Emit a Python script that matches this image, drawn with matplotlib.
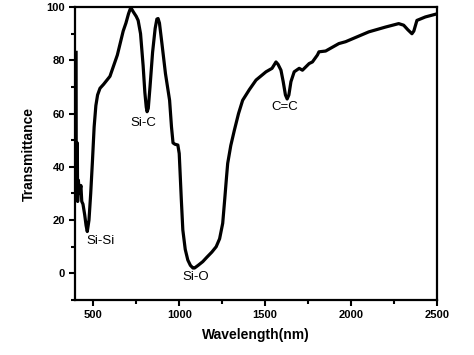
import numpy as np
import matplotlib
matplotlib.use('Agg')
import matplotlib.pyplot as plt
from matplotlib.ticker import MultipleLocator

plt.rcParams['font.family'] = ['Liberation Sans', 'DejaVu Sans']

# FTIR spectrum
wavelength = [400, 401, 404, 407, 409, 413, 420, 428, 433, 440, 450, 458, 465,
              475, 485, 495, 505, 515, 525, 539, 560, 597, 640, 674, 690,
              705, 715, 722, 735, 750, 761, 775, 790, 800, 808, 813, 820,
              830, 845, 860, 870, 877, 885, 900, 920, 944, 955, 964, 975,
              992, 1000, 1005, 1012, 1021, 1035, 1050, 1065, 1080, 1089,
              1110, 1137, 1160, 1190, 1215, 1235, 1253, 1265, 1275, 1282,
              1300, 1321, 1345, 1369, 1408, 1447, 1505, 1540, 1563, 1575,
              1592, 1605, 1618, 1628, 1638, 1650, 1669, 1698, 1717, 1756,
              1775, 1804, 1813, 1852, 1929, 1968, 2103, 2200, 2277, 2306,
              2330, 2354, 2365, 2383, 2432, 2490, 2500]
transmittance = [83, 30, 40, 49, 27, 35, 30, 33, 27, 26, 22, 18, 15.7,
                 20, 30, 42, 55, 63, 67, 69.5, 71, 74, 82, 91, 94,
                 97.5, 99.3, 99.4, 98, 96.5, 95, 90, 78, 68, 62.5, 60.7, 62,
                 70, 83, 92, 95.5, 95.7, 94, 86, 75, 65, 55, 49, 48.5,
                 48.2, 45, 38, 28, 16.3, 9, 5, 3, 2, 2,
                 3, 4.4, 6, 8, 10, 13, 18.8, 28, 36, 41.3,
                 48, 53.8, 60, 65, 69, 72.6, 75.7, 77, 79.4, 78.5,
                 76.3, 72, 67, 65.5, 67, 72, 75.7, 77, 76.3, 78.8,
                 79.4, 82, 83.2, 83.5, 86.3, 87, 90.7, 92.5, 93.8, 93.2,
                 91.5, 90, 91, 95, 96.3, 97.3, 97.5]

labels = ['Si-Si', 'Si-C', 'Si-O', 'C=C']
label_x = [543, 790, 1099, 1614]
label_y = [12, 56.3, -1.4, 62.3]

fig = plt.figure(figsize=(4.74, 3.55), dpi=100)
ax = fig.add_axes([0.158, 0.155, 0.764, 0.825])

ax.plot(wavelength, transmittance, color='black', lw=2.3,
        solid_joinstyle='round')
for lab, lx, ly in zip(labels, label_x, label_y):
    ax.text(lx, ly, lab, ha='center', va='center', fontsize=9.5)

ax.set_xlim(393, 2500)
ax.set_ylim(-10, 100)
ax.xaxis.set_major_locator(MultipleLocator(500))
ax.xaxis.set_minor_locator(MultipleLocator(250))
ax.yaxis.set_major_locator(MultipleLocator(20))
ax.yaxis.set_minor_locator(MultipleLocator(10))
ax.tick_params(which='major', direction='out', length=4, width=1.5,
               labelsize=8, pad=3)
ax.tick_params(which='minor', direction='out', length=3, width=1.5)
for lbl in ax.get_xticklabels() + ax.get_yticklabels():
    lbl.set_fontweight('bold')
for sp in ax.spines.values():
    sp.set_linewidth(1.6)

ax.set_xlabel('Wavelength(nm)', fontsize=10, fontweight='bold', labelpad=6)
ax.set_ylabel('Transmittance', fontsize=10, fontweight='bold', labelpad=8)

fig.savefig('out.png', dpi=100)
